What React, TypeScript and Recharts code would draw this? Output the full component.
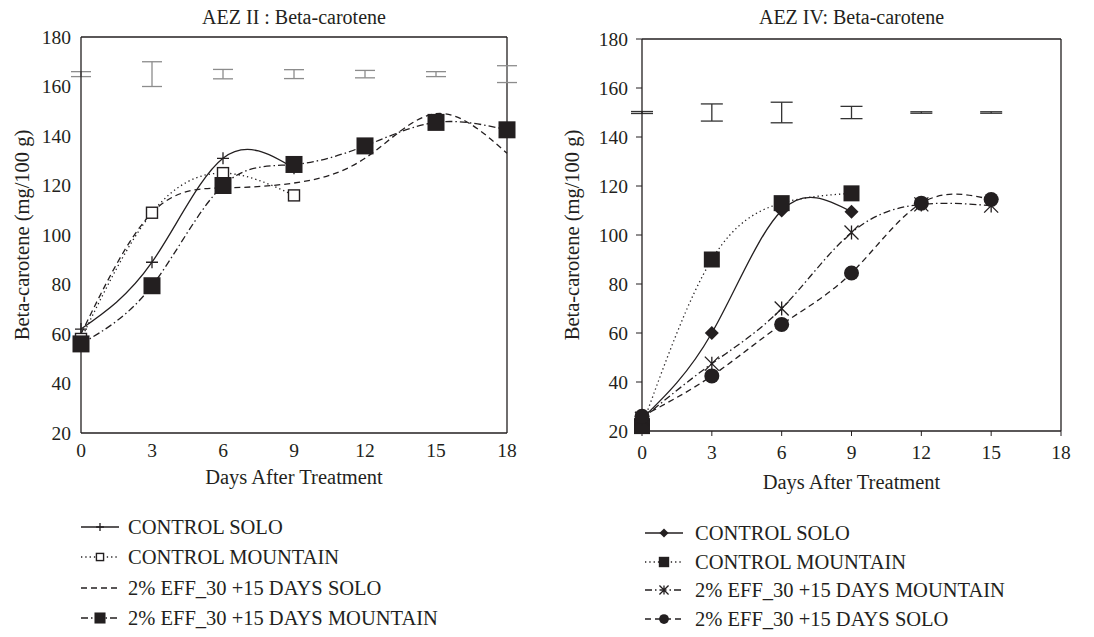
import React from "react";
import {
  ComposedChart,
  ErrorBar,
  Line,
  ReferenceLine,
  Scatter,
  XAxis,
  YAxis,
} from "recharts";

const INK = "#231f20";
const FONT = '"Liberation Serif", "DejaVu Serif", serif';

const DAY_TICKS = [0, 3, 6, 9, 12, 15, 18];
const BETA_TICKS = [20, 40, 60, 80, 100, 120, 140, 160, 180];

// AEZ II
const aez2Days = [0, 3, 6, 9, 12, 15, 18];
const aez2ControlSolo = [62, 89, 131, 127];
const aez2ControlMountain = [58, 109, 125, 116];
const aez2EffSolo = [60, 109, 119, 121, 131, 149, 133];
const aez2EffMountain = [56, 79.5, 120, 128.5, 136, 145.5, 142.5];
const aez2LsdMid = [165, 165, 165, 165, 165, 165, 165];
const aez2LsdHalf = [1, 5, 1.9, 1.8, 1.5, 1, 3.4];

// AEZ IV
const aez4Days = [0, 3, 6, 9, 12, 15];
const aez4ControlSolo = [25, 60, 110, 109.5];
const aez4ControlMountain = [22, 90, 113, 117];
const aez4EffMountain = [25, 47.5, 70, 101, 112.5, 112];
const aez4EffSolo = [26, 42.5, 63.5, 84.5, 113, 114.5];
const aez4LsdMid = [150, 150, 150, 150, 150, 150];
const aez4LsdHalf = [0.4, 3.5, 4.2, 2.5, 0.3, 0.3];

const DOTTED = "1.3 3";
const DASHED = "6 4";
const DASH_DOT = "7 3 1.5 3";

type Shape = "plus" | "openSquare" | "square" | "diamond" | "asterisk" | "circle" | "none";

type SeriesDef = {
  key: string;
  name: string;
  dash?: string;
  shape: Shape;
  size: number;
};

const aez2Series: SeriesDef[] = [
  { key: "controlSolo", name: "CONTROL SOLO", shape: "plus", size: 12 },
  { key: "controlMountain", name: "CONTROL MOUNTAIN", dash: DOTTED, shape: "openSquare", size: 11 },
  { key: "effSolo", name: "2% EFF_30 +15 DAYS SOLO", dash: DASHED, shape: "none", size: 0 },
  { key: "effMountain", name: "2% EFF_30 +15 DAYS MOUNTAIN", dash: DASH_DOT, shape: "square", size: 17 },
];

const aez4Series: SeriesDef[] = [
  { key: "controlSolo", name: "CONTROL SOLO", shape: "diamond", size: 14 },
  { key: "controlMountain", name: "CONTROL MOUNTAIN", dash: DOTTED, shape: "square", size: 16 },
  { key: "effMountain", name: "2% EFF_30 +15 DAYS MOUNTAIN", dash: DASH_DOT, shape: "asterisk", size: 14 },
  { key: "effSolo", name: "2% EFF_30 +15 DAYS SOLO", dash: DASHED, shape: "circle", size: 15 },
];

function buildRows(days: number[], cols: Record<string, number[]>) {
  return days.map((day, i) => {
    const row: Record<string, number | undefined> = { day };
    Object.keys(cols).forEach((k) => {
      row[k] = cols[k][i];
    });
    return row;
  });
}

const aez2Rows = buildRows(aez2Days, {
  controlSolo: aez2ControlSolo,
  controlMountain: aez2ControlMountain,
  effSolo: aez2EffSolo,
  effMountain: aez2EffMountain,
  lsdMid: aez2LsdMid,
  lsdHalf: aez2LsdHalf,
});

const aez4Rows = buildRows(aez4Days, {
  controlSolo: aez4ControlSolo,
  controlMountain: aez4ControlMountain,
  effMountain: aez4EffMountain,
  effSolo: aez4EffSolo,
  lsdMid: aez4LsdMid,
  lsdHalf: aez4LsdHalf,
});

function Marker({ shape, cx, cy, size }: { shape: Shape; cx: number; cy: number; size: number }) {
  const h = size / 2;
  switch (shape) {
    case "plus":
      return <path d={`M${cx - h},${cy}H${cx + h}M${cx},${cy - h}V${cy + h}`} stroke={INK} strokeWidth={1.3} fill="none" />;
    case "openSquare":
      return <rect x={cx - h} y={cy - h} width={size} height={size} fill="#fff" stroke={INK} strokeWidth={1.4} />;
    case "square":
      return <rect x={cx - h} y={cy - h} width={size} height={size} fill={INK} />;
    case "diamond":
      return <path d={`M${cx},${cy - h}L${cx + h},${cy}L${cx},${cy + h}L${cx - h},${cy}Z`} fill={INK} />;
    case "asterisk":
      return (
        <path
          d={`M${cx - h},${cy - h}L${cx + h},${cy + h}M${cx - h},${cy + h}L${cx + h},${cy - h}M${cx},${cy - h}V${cy + h}`}
          stroke={INK}
          strokeWidth={1.3}
          fill="none"
        />
      );
    case "circle":
      return <circle cx={cx} cy={cy} r={h} fill={INK} />;
    default:
      return null;
  }
}

const dotFor = (s: SeriesDef) => (p: any) => {
  if (s.shape === "none" || p.value == null || p.cy == null) return <g key={`${s.key}-${p.index}`} />;
  return (
    <g key={`${s.key}-${p.index}`}>
      <Marker shape={s.shape} cx={p.cx} cy={p.cy} size={s.size} />
    </g>
  );
};

type PanelProps = {
  left: number;
  title: string;
  rows: any[];
  series: SeriesDef[];
  lsdColor: string;
  lsdWidth: number;
  withTicks: boolean;
  margin: { top: number; right: number; left: number; bottom: number };
  yAxisWidth: number;
  xAxisHeight: number;
};

function Panel({ left, title, rows, series, lsdColor, lsdWidth, withTicks, margin, yAxisWidth, xAxisHeight }: PanelProps) {
  const width = 544;
  const height = 500;
  const plotLeft = margin.left + yAxisWidth;
  const plotRight = width - margin.right;
  const tickStyle = { fill: INK, fontSize: 19.5, fontFamily: FONT };
  const labelStyle = { fill: INK, fontSize: 20.5, fontFamily: FONT };
  return (
    <div style={{ position: "absolute", left, top: 0, width, height }}>
      <div
        style={{
          position: "absolute",
          left: plotLeft,
          width: plotRight - plotLeft,
          top: 5,
          textAlign: "center",
          fontFamily: FONT,
          fontSize: 20,
          lineHeight: "24px",
          color: INK,
        }}
      >
        {title}
      </div>
      <ComposedChart width={width} height={height} data={rows} margin={margin}>
        <XAxis
          dataKey="day"
          type="number"
          domain={[0, 18]}
          ticks={DAY_TICKS}
          interval={0}
          height={xAxisHeight}
          axisLine={{ stroke: INK, strokeWidth: 1.3 }}
          tickLine={withTicks ? { stroke: INK } : false}
          tickSize={withTicks ? 5 : 0}
          tickMargin={withTicks ? 9 : 10}
          tick={tickStyle}
          label={{
            value: "Days After Treatment",
            position: "insideBottom",
            offset: 0,
            style: labelStyle,
          }}
        />
        <YAxis
          type="number"
          domain={[20, 180]}
          ticks={BETA_TICKS}
          interval={0}
          width={yAxisWidth}
          axisLine={{ stroke: INK, strokeWidth: 1.3 }}
          tickLine={withTicks ? { stroke: INK } : false}
          tickSize={withTicks ? 6 : 0}
          tickMargin={withTicks ? 8 : 10}
          tick={tickStyle}
          label={{
            value: "Beta-carotene (mg/100 g)",
            angle: -90,
            position: "center",
            dx: -(yAxisWidth / 2 - 22),
            style: { ...labelStyle, textAnchor: "middle" },
          }}
        />
        <ReferenceLine y={180} stroke={INK} strokeWidth={1.3} />
        <ReferenceLine x={18} stroke={INK} strokeWidth={1.3} />
        <Scatter dataKey="lsdMid" isAnimationActive={false} shape={() => <g />} legendType="none">
          <ErrorBar dataKey="lsdHalf" direction="y" width={lsdWidth} stroke={lsdColor} strokeWidth={1.3} />
        </Scatter>
        {series.map((s) => (
          <Line
            key={s.key}
            dataKey={s.key}
            name={s.name}
            type="natural"
            stroke={INK}
            strokeWidth={1.3}
            strokeDasharray={s.dash}
            dot={dotFor(s)}
            activeDot={false}
            isAnimationActive={false}
          />
        ))}
      </ComposedChart>
    </div>
  );
}

function LegendSample({ s, scale }: { s: SeriesDef; scale: number }) {
  return (
    <svg width={38} height={18} style={{ display: "block" }}>
      <line x1={0} y1={9} x2={38} y2={9} stroke={INK} strokeWidth={1.3} strokeDasharray={s.dash} />
      {s.shape !== "none" && <Marker shape={s.shape} cx={19} cy={9} size={s.size * scale} />}
    </svg>
  );
}

function KeyList({ series, left, top, rowGap, textGap, scale }: { series: SeriesDef[]; left: number; top: number; rowGap: number; textGap: number; scale: number }) {
  return (
    <div style={{ position: "absolute", left, top }}>
      {series.map((s, i) => (
        <div
          key={s.key}
          style={{ position: "absolute", top: i * rowGap - 9, left: 0, display: "flex", alignItems: "center", whiteSpace: "nowrap" }}
        >
          <LegendSample s={s} scale={scale} />
          <span style={{ marginLeft: textGap, fontFamily: FONT, fontSize: 20.5, color: INK, lineHeight: "18px" }}>{s.name}</span>
        </div>
      ))}
    </div>
  );
}

export default function App() {
  return (
    <div style={{ position: "absolute", left: 0, top: 0, width: 1094, height: 637, background: "#fff", overflow: "hidden" }}>
      <Panel
        left={0}
        title="AEZ II : Beta-carotene"
        rows={aez2Rows}
        series={aez2Series}
        lsdColor="#8c8c8c"
        lsdWidth={10}
        withTicks={false}
        margin={{ top: 37, right: 37, left: 0, bottom: 16 }}
        yAxisWidth={81}
        xAxisHeight={51}
      />
      <Panel
        left={550}
        title="AEZ IV: Beta-carotene"
        rows={aez4Rows}
        series={aez4Series}
        lsdColor="#333333"
        lsdWidth={11}
        withTicks={true}
        margin={{ top: 39, right: 33, left: 0, bottom: 11 }}
        yAxisWidth={92}
        xAxisHeight={58}
      />
      <KeyList series={aez2Series} left={81} top={527} rowGap={30.3} textGap={9} scale={0.65} />
      <KeyList series={aez4Series} left={645} top={533} rowGap={28.5} textGap={12} scale={0.65} />
    </div>
  );
}
